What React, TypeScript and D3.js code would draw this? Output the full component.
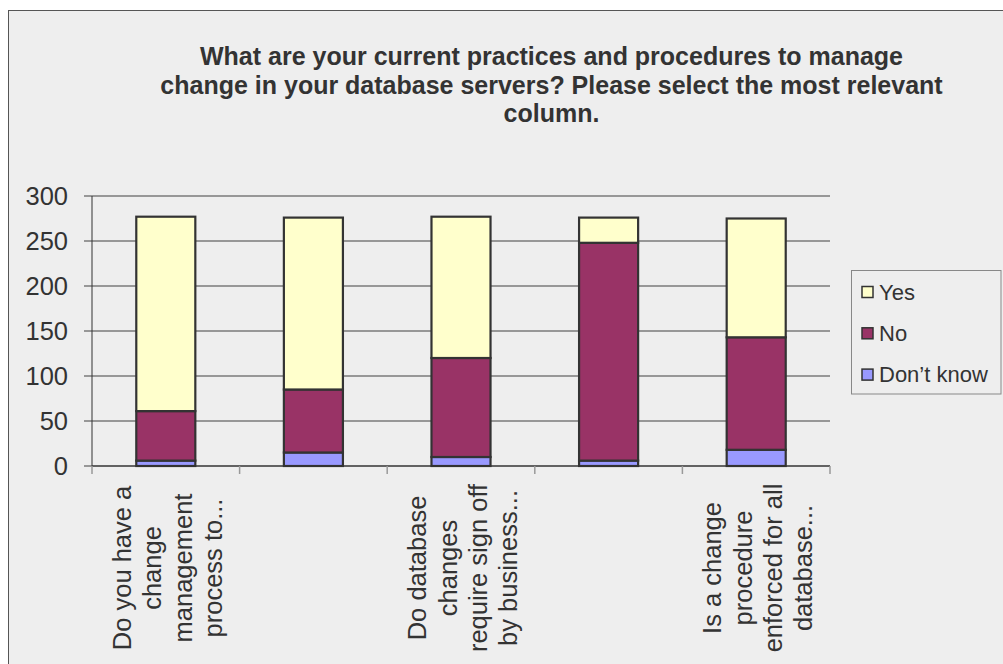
import React from "react";
import * as d3 from "d3";

const categories = ["Q1", "Q2", "Q3", "Q4", "Q5"];
const categoryLabels: string[][] = [
  ["Do you have a", "change", "management", "process to..."],
  [],
  ["Do database", "changes", "require sign off", "by business..."],
  [],
  ["Is a change", "procedure", "enforced for all", "database..."],
];
const dontKnow = [6, 15, 10, 6, 18];
const no = [55, 70, 110, 242, 125];
const yes = [216, 191, 157, 28, 132];
const seriesNames = ["Don’t know", "No", "Yes"];
const seriesColors = ["#9999FF", "#993366", "#FFFFCC"];
const yTicks = [0, 50, 100, 150, 200, 250, 300];
const titleLines = [
  "What are your current practices and procedures to manage",
  "change in your database servers? Please select the most relevant",
  "column.",
];

export default function App() {
  const W = 1003;
  const H = 664;
  const left = 92;
  const right = 830;
  const top = 196;
  const bottom = 466;
  const font = "'Liberation Sans', Arial, sans-serif";
  const textColor = "#333333";

  const x = d3
    .scaleBand<string>()
    .domain(categories)
    .range([left, right])
    .paddingInner(0.6)
    .paddingOuter(0.3);
  const y = d3.scaleLinear().domain([0, 300]).range([bottom, top]);

  const rows = categories.map((c, i) => ({
    cat: c,
    "Don’t know": dontKnow[i],
    No: no[i],
    Yes: yes[i],
  }));
  const stacked = d3.stack<any>().keys(seriesNames)(rows);
  const step = x.step();
  const boundaries = d3.range(categories.length + 1).map((i) => left + i * step);

  const legendItems = seriesNames
    .map((n, i) => ({ name: n, color: seriesColors[i] }))
    .reverse();

  return (
    <svg
      width={W}
      height={H}
      style={{ position: "absolute", left: 0, top: 0, background: "#ffffff" }}
    >
      <rect x={8.5} y={10.5} width={1100} height={800} fill="#eeeeee" stroke="#555555" strokeWidth={1} />

      {titleLines.map((t, i) => (
        <text
          key={i}
          x={551.5}
          y={65 + i * 28.5}
          textAnchor="middle"
          fontFamily={font}
          fontWeight="bold"
          fontSize={25}
          fill={textColor}
        >
          {t}
        </text>
      ))}

      {/* gridlines */}
      {yTicks.map((t) => (
        <line
          key={t}
          x1={left - 8}
          x2={t === 0 ? left : right}
          y1={y(t)}
          y2={y(t)}
          stroke="#7a7a7a"
          strokeWidth={1.5}
        />
      ))}
      {yTicks.map((t) => (
        <text
          key={"l" + t}
          x={68}
          y={y(t)}
          textAnchor="end"
          dominantBaseline="central"
          fontFamily={font}
          fontSize={25.5}
          fill={textColor}
        >
          {t}
        </text>
      ))}

      {/* bars */}
      {stacked.map((s, si) =>
        s.map((d, i) => (
          <rect
            key={si + "-" + i}
            x={x(categories[i])}
            width={x.bandwidth()}
            y={y(d[1])}
            height={y(d[0]) - y(d[1])}
            fill={seriesColors[si]}
            stroke="#333333"
            strokeWidth={2.2}
          />
        ))
      )}

      {/* axes */}
      <line x1={left} x2={left} y1={top} y2={bottom} stroke="#333333" strokeWidth={1} />
      <line x1={left} x2={right} y1={bottom} y2={bottom} stroke="#333333" strokeWidth={1.5} />
      {boundaries.map((bx, i) => (
        <line key={"t" + i} x1={bx} x2={bx} y1={bottom} y2={bottom + 8} stroke="#999999" strokeWidth={1.5} />
      ))}

      {/* x labels */}
      {categoryLabels.map((lines, ci) => {
        const cx = (x(categories[ci]) as number) + x.bandwidth() / 2 + 1.7;
        const n = lines.length;
        return lines.map((ln, li) => (
          <text
            key={ci + "-" + li}
            transform={`translate(${cx + (li - (n - 1) / 2) * 30.3},568) rotate(-90)`}
            textAnchor="middle"
            dominantBaseline="central"
            fontFamily={font}
            fontSize={25.5}
            fill={textColor}
          >
            {ln}
          </text>
        ));
      })}

      {/* legend */}
      <rect x={851.5} y={270.5} width={149.5} height={123.5} fill="#eeeeee" stroke="#888888" strokeWidth={1} />
      {legendItems.map((it, i) => (
        <g key={it.name}>
          <rect
            x={862}
            y={286.5 + i * 41.3}
            width={11}
            height={11}
            fill={it.color}
            stroke="#333333"
            strokeWidth={1.5}
          />
          <text
            x={879}
            y={292 + i * 41.3}
            dominantBaseline="central"
            fontFamily={font}
            fontSize={22}
            fill={textColor}
          >
            {it.name}
          </text>
        </g>
      ))}
    </svg>
  );
}
